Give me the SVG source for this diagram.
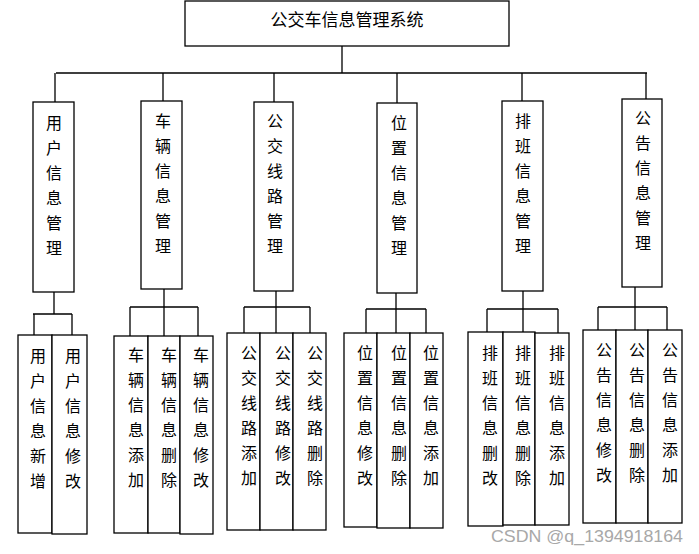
<svg xmlns="http://www.w3.org/2000/svg" width="699" height="554" viewBox="0 0 699 554">
<style>
.box{fill:#fff;stroke:#000;stroke-width:1.3}
.ln{fill:none;stroke:#000;stroke-width:1.3}
.t{font-family:"Noto Sans CJK SC","Noto Sans",sans-serif;font-size:16px;fill:#000;text-anchor:middle}
.title{font-size:17px}
.wm{font-family:"Liberation Sans",Arial,sans-serif;font-size:17px;fill:#a8a8a8}
</style>
<rect width="699" height="554" fill="#fff"/>
<g id="connectors">
<path class="ln" d="M342 46V73M56 73H647M55 73V102M163 73V101M274 73V102M397 73V103M522 73V101M646 73V99"/>
<path class="ln" d="M54 292V314M33 314H72M34 314V335M72 314V335"/>
<path class="ln" d="M164 289V336M130 307H198M130 307V336M198 307V336"/>
<path class="ln" d="M276 291V333M244 307H310M244 307V333M310 307V333"/>
<path class="ln" d="M396 293V333M366 309H426M366 309V333M426 309V333"/>
<path class="ln" d="M523 291V332M487 309H558M487 309V332M558 309V333"/>
<path class="ln" d="M635 287V330M598 307H667M598 307V330M667 307V330"/>
</g>
<g id="root"><rect class="box" x="185" y="1" width="324" height="45"/><text class="t title" x="347" y="26">公交车信息管理系统</text></g>
<g id="n1"><rect class="box" x="33" y="102" width="41" height="190"/><text class="t" x="54" y="129"><tspan x="54">用</tspan><tspan x="54" dy="25">户</tspan><tspan x="54" dy="25">信</tspan><tspan x="54" dy="25">息</tspan><tspan x="54" dy="25">管</tspan><tspan x="54" dy="25">理</tspan></text></g>
<g id="n2"><rect class="box" x="141" y="101" width="41" height="188"/><text class="t" x="163" y="127"><tspan x="163">车</tspan><tspan x="163" dy="25">辆</tspan><tspan x="163" dy="25">信</tspan><tspan x="163" dy="25">息</tspan><tspan x="163" dy="25">管</tspan><tspan x="163" dy="25">理</tspan></text></g>
<g id="n3"><rect class="box" x="254" y="102" width="39" height="189"/><text class="t" x="275" y="127"><tspan x="275">公</tspan><tspan x="275" dy="25">交</tspan><tspan x="275" dy="25">线</tspan><tspan x="275" dy="25">路</tspan><tspan x="275" dy="25">管</tspan><tspan x="275" dy="25">理</tspan></text></g>
<g id="n4"><rect class="box" x="377" y="103" width="40" height="190"/><text class="t" x="399" y="129"><tspan x="399">位</tspan><tspan x="399" dy="25">置</tspan><tspan x="399" dy="25">信</tspan><tspan x="399" dy="25">息</tspan><tspan x="399" dy="25">管</tspan><tspan x="399" dy="25">理</tspan></text></g>
<g id="n5"><rect class="box" x="502" y="101" width="41" height="190"/><text class="t" x="523" y="127"><tspan x="523">排</tspan><tspan x="523" dy="25">班</tspan><tspan x="523" dy="25">信</tspan><tspan x="523" dy="25">息</tspan><tspan x="523" dy="25">管</tspan><tspan x="523" dy="25">理</tspan></text></g>
<g id="n6"><rect class="box" x="622" y="99" width="40" height="188"/><text class="t" x="643" y="124"><tspan x="643">公</tspan><tspan x="643" dy="25">告</tspan><tspan x="643" dy="25">信</tspan><tspan x="643" dy="25">息</tspan><tspan x="643" dy="25">管</tspan><tspan x="643" dy="25">理</tspan></text></g>

<g id="n1a"><rect class="box" x="18" y="335" width="34" height="198"/><text class="t" x="38" y="362"><tspan x="38">用</tspan><tspan x="38" dy="25">户</tspan><tspan x="38" dy="25">信</tspan><tspan x="38" dy="25">息</tspan><tspan x="38" dy="25">新</tspan><tspan x="38" dy="25">增</tspan></text></g>
<g id="n1b"><rect class="box" x="52" y="335" width="35" height="199"/><text class="t" x="73" y="362"><tspan x="73">用</tspan><tspan x="73" dy="25">户</tspan><tspan x="73" dy="25">信</tspan><tspan x="73" dy="25">息</tspan><tspan x="73" dy="25">修</tspan><tspan x="73" dy="25">改</tspan></text></g>

<g id="n2a"><rect class="box" x="114" y="336" width="34" height="197"/><text class="t" x="136" y="361"><tspan x="136">车</tspan><tspan x="136" dy="25">辆</tspan><tspan x="136" dy="25">信</tspan><tspan x="136" dy="25">息</tspan><tspan x="136" dy="25">添</tspan><tspan x="136" dy="25">加</tspan></text></g>
<g id="n2b"><rect class="box" x="148" y="336" width="32" height="197"/><text class="t" x="169" y="361"><tspan x="169">车</tspan><tspan x="169" dy="25">辆</tspan><tspan x="169" dy="25">信</tspan><tspan x="169" dy="25">息</tspan><tspan x="169" dy="25">删</tspan><tspan x="169" dy="25">除</tspan></text></g>
<g id="n2c"><rect class="box" x="180" y="336" width="33" height="198"/><text class="t" x="201" y="361"><tspan x="201">车</tspan><tspan x="201" dy="25">辆</tspan><tspan x="201" dy="25">信</tspan><tspan x="201" dy="25">息</tspan><tspan x="201" dy="25">修</tspan><tspan x="201" dy="25">改</tspan></text></g>

<g id="n3a"><rect class="box" x="227" y="333" width="33" height="197"/><text class="t" x="249" y="359"><tspan x="249">公</tspan><tspan x="249" dy="25">交</tspan><tspan x="249" dy="25">线</tspan><tspan x="249" dy="25">路</tspan><tspan x="249" dy="25">添</tspan><tspan x="249" dy="25">加</tspan></text></g>
<g id="n3b"><rect class="box" x="260" y="333" width="33" height="197"/><text class="t" x="283" y="359"><tspan x="283">公</tspan><tspan x="283" dy="25">交</tspan><tspan x="283" dy="25">线</tspan><tspan x="283" dy="25">路</tspan><tspan x="283" dy="25">修</tspan><tspan x="283" dy="25">改</tspan></text></g>
<g id="n3c"><rect class="box" x="293" y="333" width="33" height="197"/><text class="t" x="315" y="359"><tspan x="315">公</tspan><tspan x="315" dy="25">交</tspan><tspan x="315" dy="25">线</tspan><tspan x="315" dy="25">路</tspan><tspan x="315" dy="25">删</tspan><tspan x="315" dy="25">除</tspan></text></g>

<g id="n4a"><rect class="box" x="344" y="333" width="33" height="194"/><text class="t" x="365" y="359"><tspan x="365">位</tspan><tspan x="365" dy="25">置</tspan><tspan x="365" dy="25">信</tspan><tspan x="365" dy="25">息</tspan><tspan x="365" dy="25">修</tspan><tspan x="365" dy="25">改</tspan></text></g>
<g id="n4b"><rect class="box" x="377" y="333" width="33" height="195"/><text class="t" x="399" y="359"><tspan x="399">位</tspan><tspan x="399" dy="25">置</tspan><tspan x="399" dy="25">信</tspan><tspan x="399" dy="25">息</tspan><tspan x="399" dy="25">删</tspan><tspan x="399" dy="25">除</tspan></text></g>
<g id="n4c"><rect class="box" x="410" y="333" width="33" height="195"/><text class="t" x="431" y="359"><tspan x="431">位</tspan><tspan x="431" dy="25">置</tspan><tspan x="431" dy="25">信</tspan><tspan x="431" dy="25">息</tspan><tspan x="431" dy="25">添</tspan><tspan x="431" dy="25">加</tspan></text></g>

<g id="n5a"><rect class="box" x="468" y="332" width="35" height="194"/><text class="t" x="490" y="359"><tspan x="490">排</tspan><tspan x="490" dy="25">班</tspan><tspan x="490" dy="25">信</tspan><tspan x="490" dy="25">息</tspan><tspan x="490" dy="25">删</tspan><tspan x="490" dy="25">改</tspan></text></g>
<g id="n5b"><rect class="box" x="503" y="332" width="32" height="193"/><text class="t" x="523" y="359"><tspan x="523">排</tspan><tspan x="523" dy="25">班</tspan><tspan x="523" dy="25">信</tspan><tspan x="523" dy="25">息</tspan><tspan x="523" dy="25">删</tspan><tspan x="523" dy="25">除</tspan></text></g>
<g id="n5c"><rect class="box" x="535" y="333" width="34" height="192"/><text class="t" x="557" y="359"><tspan x="557">排</tspan><tspan x="557" dy="25">班</tspan><tspan x="557" dy="25">信</tspan><tspan x="557" dy="25">息</tspan><tspan x="557" dy="25">添</tspan><tspan x="557" dy="25">加</tspan></text></g>

<g id="n6a"><rect class="box" x="583" y="330" width="33" height="193"/><text class="t" x="604" y="356"><tspan x="604">公</tspan><tspan x="604" dy="25">告</tspan><tspan x="604" dy="25">信</tspan><tspan x="604" dy="25">息</tspan><tspan x="604" dy="25">修</tspan><tspan x="604" dy="25">改</tspan></text></g>
<g id="n6b"><rect class="box" x="616" y="330" width="32" height="193"/><text class="t" x="637" y="356"><tspan x="637">公</tspan><tspan x="637" dy="25">告</tspan><tspan x="637" dy="25">信</tspan><tspan x="637" dy="25">息</tspan><tspan x="637" dy="25">删</tspan><tspan x="637" dy="25">除</tspan></text></g>
<g id="n6c"><rect class="box" x="648" y="330" width="34" height="193"/><text class="t" x="670" y="356"><tspan x="670">公</tspan><tspan x="670" dy="25">告</tspan><tspan x="670" dy="25">信</tspan><tspan x="670" dy="25">息</tspan><tspan x="670" dy="25">添</tspan><tspan x="670" dy="25">加</tspan></text></g>

<text class="wm" x="491" y="542" textLength="192" lengthAdjust="spacingAndGlyphs">CSDN @q_1394918164</text>
</svg>
